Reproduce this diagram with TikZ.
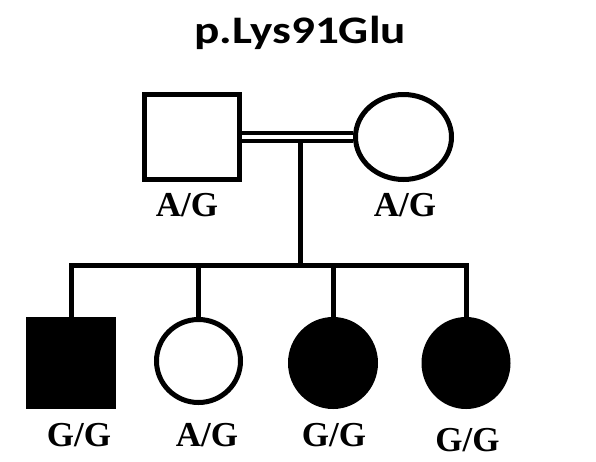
\documentclass[tikz,border=0pt]{standalone}
\usepackage{fontspec}
\setmainfont{Liberation Serif}
\newfontfamily\titlefont[FakeStretch=1.21]{Carlito}
\usetikzlibrary{shapes.geometric}
\begin{document}
\begin{tikzpicture}[x=1pt,y=-1pt,line join=miter,
	person/.style={draw,line width=5pt,inner sep=0pt,minimum height=85pt},
	male/.style={person,rectangle,minimum width=95pt},
	female/.style={person,ellipse,minimum width=96pt},
	affected/.style={fill=black},
	geno/.style={anchor=base,font=\fontsize{35}{40}\selectfont\bfseries},
	link/.style={line width=5pt}]
	\useasboundingbox (0,0) rectangle (596,461);
	\node[anchor=base,font=\titlefont\fontsize{39}{46}\selectfont\bfseries] (title) at (300,43) {p.Lys91Glu};
	% parents
	\node[male] (father) at (192,137) {};
	\node[female] (mother) at (403.5,137) {};
	\node[geno] (gfather) at (187,216.7) {A/G};
	\node[geno] (gmother) at (405,216.7) {A/G};
	\coordinate (mate) at (300,137);
	\coordinate (sib) at (300,265);
	% children
	\node[male,affected,minimum width=85pt,minimum height=87pt] (c1) at (71,363) {};
	\node[female,minimum width=84pt,minimum height=83pt] (c2) at (198.5,361) {};
	\node[female,affected,minimum width=85pt,minimum height=87pt] (c3) at (333,363) {};
	\node[female,affected,minimum width=84pt,minimum height=87pt] (c4) at (466,363) {};
	\node[geno] (g1) at (79,446.7) {G/G};
	\node[geno] (g2) at (207,446.7) {A/G};
	\node[geno] (g3) at (334,446.7) {G/G};
	\node[geno] (g4) at (467.5,451.7) {G/G};
	% lines
	\draw[link] (mate) -- (sib);
	\draw[link,double,double distance=3.5pt,line width=4pt] (father.east) -- (mother.west);
	\draw[link] (c1.north) -- (c1.north |- sib) -- (c4.north |- sib) -- (c4.north);
	\foreach \i in {2,3}
		\draw[link] (c\i.north |- sib) -- (c\i.north);
\end{tikzpicture}
\end{document}
